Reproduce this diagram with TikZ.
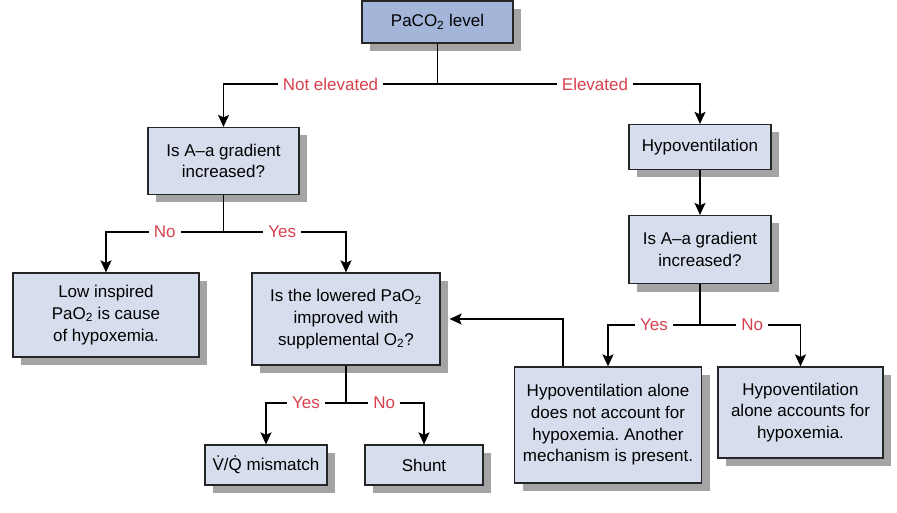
\documentclass[tikz,border=0pt]{standalone}
\usepackage{fontspec}
\setmainfont{Liberation Sans}
\usetikzlibrary{arrows.meta,shadows}
\definecolor{boxfill}{HTML}{D6DEEE}
\definecolor{topfill}{HTML}{A3B5D8}
\definecolor{lblred}{HTML}{D9414F}
\definecolor{shade}{HTML}{A4A4A4}
\frenchspacing
\begin{document}
\begin{tikzpicture}[x=1pt,y=-1pt,
  box/.style={draw=black!85, line width=1.2pt, fill=boxfill, align=center, inner sep=0pt,
    font=\fontsize{17}{21.7}\selectfont,
    drop shadow={shadow xshift=8pt, shadow yshift=-8pt, fill=shade, opacity=1}},
  lbl/.style={fill=white, text=lblred, inner xsep=5pt, inner ysep=2pt,
    font=\fontsize{17}{20}\selectfont},
  ln/.style={line width=1.8pt},
  arr/.style={line width=1.8pt, -{Stealth[length=12pt,width=11pt,inset=2.5pt]}}]
\useasboundingbox (0,0) rectangle (897,513);

\node[box, fill=topfill, minimum width=151pt, minimum height=42pt] (top) at (437.5,22) {PaCO\textsubscript{2} level};
\node[box, minimum width=151pt, minimum height=67pt] (q1) at (223.5,161) {Is A–a gradient\\increased?};
\node[box, minimum width=142pt, minimum height=45pt] (hypo) at (700,147) {Hypoventilation};
\node[box, minimum width=142pt, minimum height=68pt] (q2) at (700,249.5) {Is A–a gradient\\increased?};
\node[box, minimum width=186pt, minimum height=84pt] (low) at (106,315) {Low inspired\\PaO\textsubscript{2} is cause\\of hypoxemia.};
\node[box, minimum width=188pt, minimum height=92pt] (imp) at (346,319) {Is the lowered PaO\textsubscript{2}\\improved with\\supplemental O\textsubscript{2}?};
\node[box, minimum width=187pt, minimum height=116pt] (notacc) at (608,425) {Hypoventilation alone\\does not account for\\hypoxemia. Another\\mechanism is present.};
\node[box, minimum width=165pt, minimum height=91pt] (acc) at (800.5,412.5) {Hypoventilation\\alone accounts for\\hypoxemia.};
\node[box, minimum width=122pt, minimum height=40pt] (vq) at (266,465) {\.{V}/\.{Q} mismatch};
\node[box, minimum width=118pt, minimum height=40pt] (shunt) at (424,465) {Shunt};

\coordinate (j1) at (437.5,84);
\coordinate (j2) at (223.5,232);
\coordinate (j3) at (700,325);
\coordinate (j4) at (346,403);

\draw[ln] (top.south) -- (j1);
\draw[arr] (j1) -| node[lbl, pos=0.25] {Not elevated} (q1.north);
\draw[arr] (j1) -| node[lbl, pos=0.3] {Elevated} (hypo.north);

\draw[ln] (q1.south) -- (j2);
\draw[arr] (j2) -| node[lbl, pos=0.25] {No} (low.north);
\draw[arr] (j2) -| node[lbl, pos=0.24] {Yes} (imp.north);

\draw[arr] (hypo.south) -- (q2.north);

\draw[ln] (q2.south) -- (j3);
\draw[arr] (j3) -| node[lbl, pos=0.25] {Yes} (notacc.north);
\draw[arr] (j3) -| node[lbl, pos=0.26] {No} (acc.north);

\draw[ln] (imp.south) -- (j4);
\draw[arr] (j4) -| node[lbl, pos=0.25] {Yes} (vq.north);
\draw[arr] (j4) -| node[lbl, pos=0.245] {No} (shunt.north);

\draw[arr] ([xshift=-45pt]notacc.north) |- ([xshift=9pt]imp.east);
\end{tikzpicture}
\end{document}
